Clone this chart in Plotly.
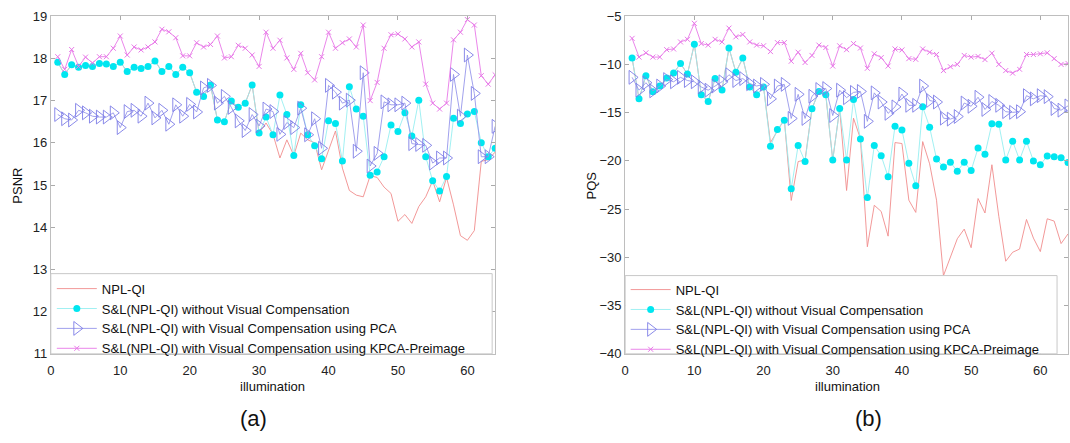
import plotly.graph_objects as go

illum = list(range(1, 65))

# ---------- (a) PSNR ----------
psnr_npl = [17.91, 17.62, 17.85, 17.79, 17.83, 17.81, 17.88, 17.87, 17.81, 17.91,
            17.69, 17.79, 17.76, 17.81, 17.94, 17.69, 17.81, 17.62, 17.79, 17.66,
            17.20, 17.10, 17.37, 16.54, 16.50, 16.99, 16.84, 16.94, 17.37, 16.23,
            16.47, 16.20, 15.64, 16.07, 15.70, 16.23, 16.07, 16.00, 15.36, 15.83,
            16.28, 15.40, 14.87, 14.76, 14.72, 15.22, 15.18, 14.95, 14.80, 14.14,
            14.30, 14.09, 14.49, 14.72, 15.10, 14.60, 15.18, 14.53, 13.80, 13.69,
            13.92, 15.56, 15.60, 15.78]
psnr_sl = [17.91, 17.62, 17.85, 17.79, 17.83, 17.81, 17.88, 17.87, 17.81, 17.91,
           17.69, 17.79, 17.76, 17.81, 17.94, 17.69, 17.81, 17.62, 17.79, 17.66,
           17.20, 17.10, 17.37, 16.54, 16.50, 16.99, 16.84, 16.94, 17.37, 16.23,
           16.61, 16.19, 17.13, 16.67, 15.70, 16.90, 16.19, 15.93, 15.62, 16.52,
           16.46, 15.57, 17.33, 16.80, 16.63, 15.23, 15.31, 15.67, 16.42, 16.27,
           16.71, 16.16, 17.01, 15.67, 15.10, 14.86, 15.20, 16.58, 16.46, 16.68,
           16.74, 16.00, 15.67, 15.87]
psnr_pca = [16.67, 16.57, 16.54, 16.77, 16.71, 16.63, 16.61, 16.61, 16.71, 16.36,
            16.74, 16.77, 16.63, 16.94, 16.59, 16.77, 16.44, 16.90, 16.63, 16.91,
            16.73, 17.30, 17.36, 16.94, 17.10, 16.84, 16.52, 16.29, 16.67, 16.40,
            16.80, 16.74, 16.20, 16.48, 16.36, 16.82, 16.19, 16.57, 15.87, 17.36,
            17.20, 16.94, 17.01, 15.80, 17.66, 15.45, 15.75, 16.97, 16.90, 16.90,
            16.94, 15.98, 15.96, 15.94, 15.52, 15.64, 15.64, 17.62, 16.63, 18.08,
            17.17, 15.67, 15.67, 16.39]
psnr_kpca = [18.04, 17.74, 18.21, 17.81, 18.03, 17.89, 18.04, 18.04, 18.24, 18.53,
             18.08, 18.27, 18.20, 18.27, 18.39, 18.69, 18.63, 18.49, 18.06, 18.06,
             18.37, 18.27, 18.33, 18.53, 18.01, 18.04, 18.31, 18.24, 18.08, 17.81,
             18.62, 18.24, 18.43, 18.01, 17.74, 18.12, 17.66, 17.49, 18.04, 18.62,
             18.24, 18.37, 18.46, 18.27, 18.79, 17.00, 17.43, 18.24, 18.56, 18.58,
             18.46, 18.27, 18.39, 17.39, 16.94, 16.80, 16.94, 18.44, 18.62, 18.92,
             18.79, 17.59, 17.39, 17.61]

# ---------- (b) PQS ----------
pqs_npl = [-9.34, -13.57, -11.17, -12.84, -12.24, -11.40, -10.90, -9.90, -11.00, -7.90,
           -13.14, -13.84, -11.47, -12.64, -8.30, -10.80, -9.34, -12.34, -13.14, -12.34,
           -18.10, -16.90, -15.70, -24.10, -20.07, -19.90, -14.57, -12.80, -13.24, -19.90,
           -14.60, -23.07, -15.57, -17.70, -28.90, -24.60, -25.24, -27.80, -18.10, -18.20,
           -24.07, -25.34, -18.00, -20.30, -24.07, -31.90, -30.07, -28.07, -27.07, -29.00,
           -23.90, -25.40, -20.40, -25.74, -30.40, -29.47, -29.14, -26.07, -28.00, -29.40,
           -26.00, -26.24, -28.57, -27.57]
pqs_sl = [-9.34, -13.57, -11.17, -12.84, -12.24, -11.40, -10.90, -9.90, -11.00, -7.90,
          -13.14, -13.84, -11.47, -12.64, -8.30, -10.80, -9.34, -12.34, -13.14, -12.34,
          -18.47, -16.74, -15.80, -22.90, -18.40, -20.07, -14.60, -12.80, -13.14, -19.90,
          -14.57, -19.90, -13.64, -17.74, -23.80, -18.40, -19.47, -21.64, -16.40, -16.80,
          -20.24, -22.57, -14.40, -16.50, -19.80, -20.64, -20.14, -21.07, -20.14, -21.00,
          -18.67, -19.30, -16.14, -16.20, -19.90, -17.97, -19.90, -17.97, -20.00, -20.40,
          -19.50, -19.57, -19.67, -20.17]
pqs_pca = [-11.34, -12.67, -11.90, -12.74, -12.24, -11.57, -11.80, -11.34, -11.67, -11.80,
           -12.34, -12.67, -12.24, -11.80, -11.07, -11.67, -11.47, -12.00, -12.24, -12.07,
           -13.57, -12.24, -12.07, -15.60, -13.10, -15.60, -13.30, -12.60, -12.50, -15.30,
           -12.67, -13.45, -12.90, -12.80, -15.90, -12.95, -13.90, -15.07, -14.40, -13.07,
           -14.24, -14.24, -12.24, -13.74, -13.90, -15.57, -15.67, -15.40, -14.00, -14.34,
           -13.40, -14.67, -13.84, -14.24, -14.90, -14.97, -14.90, -13.24, -13.57, -13.24,
           -13.34, -14.57, -14.74, -14.30]
pqs_kpca = [-7.30, -9.24, -8.80, -9.24, -9.24, -8.47, -8.40, -7.67, -7.40, -5.74,
            -7.84, -8.00, -7.40, -7.67, -6.24, -7.14, -6.90, -7.67, -8.00, -8.07,
            -8.67, -7.74, -7.74, -9.67, -8.74, -9.80, -9.07, -8.00, -8.24, -10.17,
            -8.07, -8.47, -7.84, -8.30, -10.40, -8.90, -9.30, -10.17, -8.40, -8.50,
            -9.40, -9.47, -8.40, -8.74, -8.97, -10.64, -10.24, -10.00, -9.07, -9.24,
            -9.17, -9.50, -8.84, -10.00, -10.64, -10.90, -10.50, -8.97, -8.97, -8.90,
            -8.80, -9.40, -10.00, -9.90]

names = ["NPL-QI",
         "S&L(NPL-QI) without Visual Compensation",
         "S&L(NPL-QI) with Visual Compensation using PCA",
         "S&L(NPL-QI) with Visual Compensation using KPCA-Preimage"]

FONT = "Liberation Sans, Arial, sans-serif"
RED = "rgb(240,140,140)"
CY_LINE = "rgb(150,238,240)"
CY_MK = "rgb(0,230,240)"
PCA_C = "rgb(125,125,230)"
KP_C = "rgb(232,120,232)"

fig = go.Figure()

def add_set(npl, sl, pca, kpca, xa, ya, leg):
    fig.add_trace(go.Scatter(x=illum, y=npl, mode="lines", name=names[0],
                             line=dict(color=RED, width=0.9),
                             xaxis=xa, yaxis=ya, legend=leg))
    fig.add_trace(go.Scatter(x=illum, y=sl, mode="lines+markers", name=names[1],
                             line=dict(color=CY_LINE, width=0.9),
                             marker=dict(symbol="circle", size=7, color=CY_MK),
                             xaxis=xa, yaxis=ya, legend=leg))
    fig.add_trace(go.Scatter(x=illum, y=pca, mode="lines+markers", name=names[2],
                             line=dict(color="rgb(150,150,235)", width=0.9),
                             marker=dict(symbol="triangle-right-open", size=12,
                                         color=PCA_C, line=dict(width=0.9, color=PCA_C)),
                             xaxis=xa, yaxis=ya, legend=leg))
    fig.add_trace(go.Scatter(x=illum, y=kpca, mode="lines+markers", name=names[3],
                             line=dict(color=KP_C, width=0.9),
                             marker=dict(symbol="x-thin", size=5,
                                         line=dict(width=1, color=KP_C), color=KP_C),
                             xaxis=xa, yaxis=ya, legend=leg))

add_set(psnr_npl, psnr_sl, psnr_pca, psnr_kpca, "x", "y", "legend")
add_set(pqs_npl, pqs_sl, pqs_pca, pqs_kpca, "x2", "y2", "legend2")

W, H = 1070, 443
def px(v): return v / W
def py(v): return 1 - v / H

axis_common = dict(showline=True, linecolor="rgb(190,190,190)", linewidth=1,
                   mirror="ticks", ticks="inside", ticklen=4,
                   tickcolor="rgb(170,170,170)", showgrid=False, zeroline=False,
                   tickfont=dict(family=FONT, size=13, color="#222"))

ydom = [py(359), py(9.5)]
xt = [0, 10, 20, 30, 40, 50, 60]
fig.update_layout(
    width=W, height=H, margin=dict(l=0, r=0, t=0, b=0),
    paper_bgcolor="white", plot_bgcolor="white", showlegend=True,
    xaxis=dict(domain=[px(47), px(493)], range=[0, 64], tickvals=xt,
               anchor="y", ticklabelstandoff=5, **axis_common),
    yaxis=dict(domain=ydom, range=[11, 19], tickvals=list(range(11, 20)),
               anchor="x", **axis_common),
    xaxis2=dict(domain=[px(623.5), px(1068)], range=[0, 64], tickvals=xt,
                anchor="y2", ticklabelstandoff=5, **axis_common),
    yaxis2=dict(domain=ydom, range=[-40, -5], tickvals=[-40, -35, -30, -25, -20, -15, -10, -5],
                anchor="x2", **axis_common),
    legend=dict(x=px(48), y=py(276), xanchor="left", yanchor="top",
                bgcolor="rgba(0,0,0,0)", borderwidth=0, itemwidth=40,
                font=dict(family=FONT, size=13, color="#111"), tracegroupgap=0),
    legend2=dict(x=px(624), y=py(277), xanchor="left", yanchor="top",
                 bgcolor="rgba(0,0,0,0)", borderwidth=0, itemwidth=40,
                 font=dict(family=FONT, size=13, color="#111"), tracegroupgap=0),
    shapes=[
        dict(type="rect", xref="paper", yref="paper", x0=px(47), x1=px(490), y0=py(359), y1=py(276),
             line=dict(color="rgb(200,200,200)", width=1), fillcolor="white", layer="above"),
        dict(type="rect", xref="paper", yref="paper", x0=px(623.5), x1=px(1057), y0=py(359), y1=py(278),
             line=dict(color="rgb(200,200,200)", width=1), fillcolor="white", layer="above"),
    ],
)

def label(text, x, y, size=13, angle=0):
    fig.add_annotation(text=text, x=px(x), y=py(y), xref="paper", yref="paper",
                       showarrow=False, xanchor="center", yanchor="middle",
                       textangle=angle, font=dict(family=FONT, size=size, color="#111"))

label("PSNR", 14, 185, angle=-90)
label("PQS", 590, 185, angle=-90)
label("illumination", 270, 393)
label("illumination", 847, 393)
label("(a)", 250, 426, size=22)
label("(b)", 868, 426, size=22)

fig.write_html("out.html")
